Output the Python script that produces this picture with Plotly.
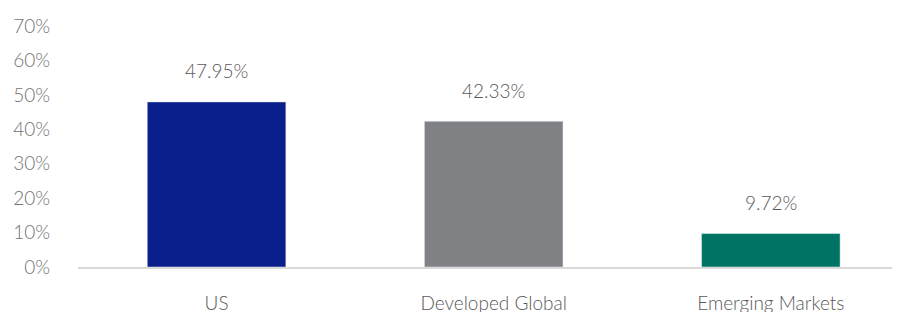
import plotly.graph_objects as go

categories = ["US", "Developed Global", "Emerging Markets"]
values = [0.4795, 0.4233, 0.0972]
labels = ["47.95%", "42.33%", "9.72%"]
colors = ["#0A1F8C", "#808184", "#007464"]
tick_vals = [0, 0.1, 0.2, 0.3, 0.4, 0.5, 0.6, 0.7]
tick_text = ["0%", "10%", "20%", "30%", "40%", "50%", "60%", "70%"]

fig = go.Figure()
fig.add_trace(go.Bar(x=categories, y=values, marker_color=colors, width=0.5,
                     hoverinfo="skip"))

for c, v, t in zip(categories, values, labels):
    fig.add_annotation(x=c, y=v, text=t, showarrow=False, yshift=31,
                       font=dict(family="Lato", size=19, color="#595959", weight=300))

fig.update_layout(
    width=900, height=312,
    margin=dict(l=70, r=0, t=18, b=53),
    paper_bgcolor="white", plot_bgcolor="white",
    showlegend=False,
    font=dict(family="Lato", size=19, color="#595959", weight=300),
    xaxis=dict(range=[-0.5, 2.495], showline=True, linecolor="#d9d9d9", linewidth=1.5,
               ticks="", showgrid=False, tickfont=dict(size=19, color="#595959", weight=300),
               ticklabelstandoff=18),
    yaxis=dict(range=[0, 0.7], tickvals=tick_vals, ticktext=tick_text, showgrid=False,
               zeroline=False, showline=False, ticks="",
               tickfont=dict(size=19, color="#737373", weight=300),
               ticklabelstandoff=27),
)

fig.write_html("out.html")
